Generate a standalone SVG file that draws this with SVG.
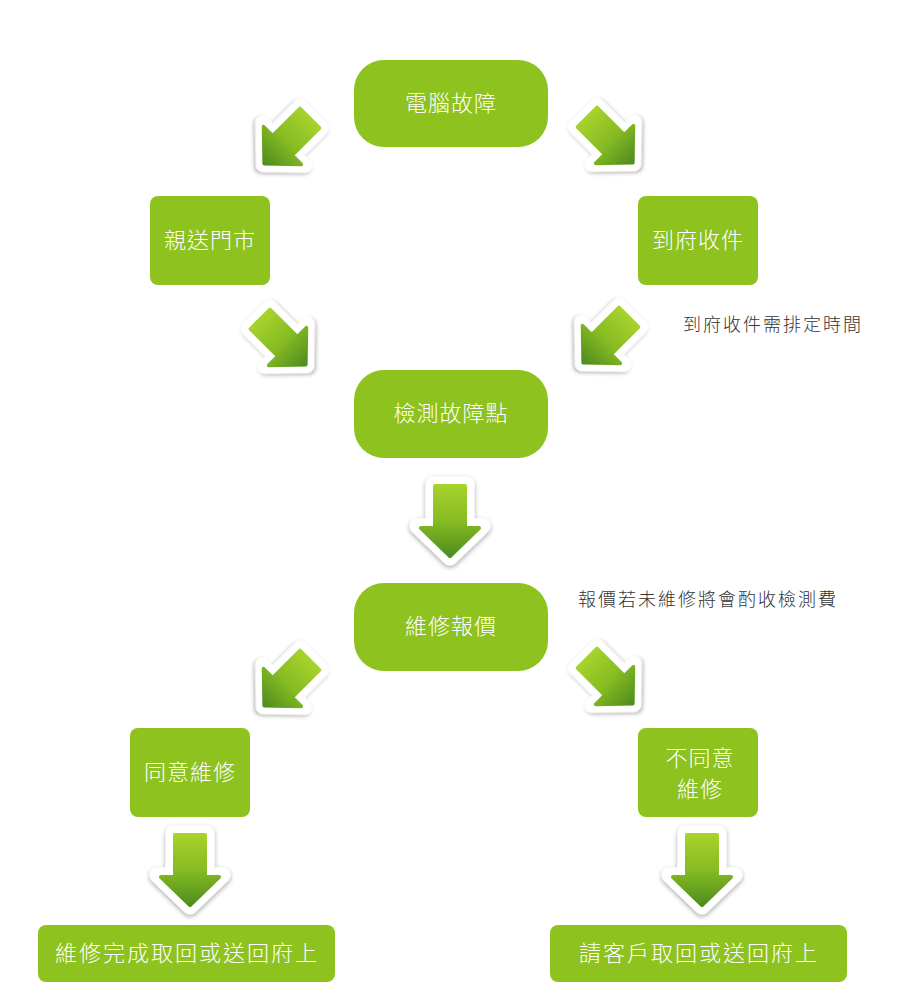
<svg xmlns="http://www.w3.org/2000/svg" xmlns:xlink="http://www.w3.org/1999/xlink" width="900" height="1000" viewBox="0 0 900 1000">
<style>
.node{fill:#8dc21f}
.lbl{font-family:"Noto Sans CJK TC","Noto Sans CJK SC",sans-serif;fill:#ffffff;font-size:22px;font-weight:300;text-anchor:middle;letter-spacing:1px}
.big{font-size:22px;letter-spacing:2px}
.note{font-family:"Noto Sans CJK TC","Noto Sans CJK SC",sans-serif;fill:#333333;font-size:18px;font-weight:300;letter-spacing:2px}
</style>
<defs>
<linearGradient id="ag" x1="0" y1="0" x2="0" y2="1">
<stop offset="0" stop-color="#a6d22c"/>
<stop offset="0.5" stop-color="#86bb22"/>
<stop offset="1" stop-color="#4f8d1e"/>
</linearGradient>
<filter id="sh" x="-30%" y="-30%" width="160%" height="160%">
<feGaussianBlur in="SourceAlpha" stdDeviation="2.5"/>
<feOffset dx="0" dy="2" result="b"/>
<feComponentTransfer><feFuncA type="linear" slope="0.35"/></feComponentTransfer>
<feMerge><feMergeNode/><feMergeNode in="SourceGraphic"/></feMerge>
</filter>
<g id="arrow">
<path d="M-17,-37 L17,-37 L17,5 L33,5 L0,37 L-33,5 L-17,5 Z" fill="#ffffff" stroke="#ffffff" stroke-width="15" stroke-linejoin="round" filter="url(#sh)"/>
<path d="M-15,-35 L15,-35 L15,7 L29,7 L0,35 L-29,7 L-15,7 Z" fill="url(#ag)" stroke="url(#ag)" stroke-width="4" stroke-linejoin="round"/>
</g>
</defs>
<rect width="900" height="1000" fill="#ffffff"/>
<g id="connectors">
<use xlink:href="#arrow" transform="translate(287,141) rotate(45) scale(0.92)"/>
<use xlink:href="#arrow" transform="translate(610,140) rotate(-45) scale(0.92)"/>
<use xlink:href="#arrow" transform="translate(283,342) rotate(-45) scale(0.92)"/>
<use xlink:href="#arrow" transform="translate(606,340) rotate(45) scale(0.92)"/>
<use xlink:href="#arrow" transform="translate(450,521)"/>
<use xlink:href="#arrow" transform="translate(287,683) rotate(45) scale(0.92)"/>
<use xlink:href="#arrow" transform="translate(610,681) rotate(-45) scale(0.92)"/>
<use xlink:href="#arrow" transform="translate(190,870)"/>
<use xlink:href="#arrow" transform="translate(702,870)"/>
</g>
<g id="n1"><rect class="node" x="354" y="60" width="194" height="87" rx="30"/><text class="lbl" x="451" y="111">電腦故障</text></g>
<g id="n2"><rect class="node" x="150" y="196" width="120" height="89" rx="8"/><text class="lbl" x="210" y="248">親送門市</text></g>
<g id="n3"><rect class="node" x="638" y="196" width="120" height="89" rx="8"/><text class="lbl" x="698" y="248">到府收件</text></g>
<g id="n4"><rect class="node" x="354" y="370" width="194" height="88" rx="30"/><text class="lbl" x="451" y="421">檢測故障點</text></g>
<g id="n5"><rect class="node" x="354" y="583" width="194" height="88" rx="30"/><text class="lbl" x="451" y="634">維修報價</text></g>
<g id="n6"><rect class="node" x="130" y="728" width="120" height="89" rx="8"/><text class="lbl" x="190" y="780">同意維修</text></g>
<g id="n7"><rect class="node" x="638" y="728" width="120" height="89" rx="8"/><text class="lbl" x="700" y="766" font-size="18">不同意</text><text class="lbl" x="700" y="797" font-size="18">維修</text></g>
<g id="n8"><rect class="node" x="38" y="925" width="297" height="57" rx="8"/><text class="lbl big" x="187" y="961">維修完成取回或送回府上</text></g>
<g id="n9"><rect class="node" x="550" y="925" width="297" height="57" rx="8"/><text class="lbl big" x="699" y="961">請客戶取回或送回府上</text></g>
<g id="notes">
<text class="note" x="683" y="331">到府收件需排定時間</text>
<text class="note" x="578" y="606">報價若未維修將會酌收檢測費</text>
</g>
</svg>
